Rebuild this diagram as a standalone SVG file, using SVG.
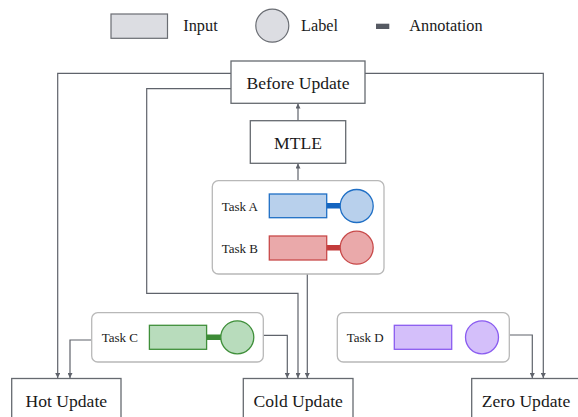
<svg xmlns="http://www.w3.org/2000/svg" width="578" height="417" viewBox="0 0 578 417">
<style>
text{font-family:"Liberation Serif","Times New Roman",serif;fill:#1a1a1a}
.leg{font-size:16.3px}
.big{font-size:17.6px}
.task{font-size:13px}
.box{fill:#fff;stroke:#666a70;stroke-width:1.3}
.cont{fill:#fff;stroke:#b8b8b8;stroke-width:1.3}
.conn{fill:none;stroke:#5f636b;stroke-width:1.2}
</style>
<defs>
<marker id="arr" viewBox="0 0 10 10" refX="10" refY="5" markerWidth="5" markerHeight="5" orient="auto" markerUnits="userSpaceOnUse">
<path d="M0,0 L10,5 L0,10 z" fill="#5f636b"/>
</marker>
</defs>
<rect width="578" height="417" fill="#fff"/>
<g id="legend">
<rect x="111" y="14" width="56.5" height="24.3" fill="#dcdde2" stroke="#6a6d73" stroke-width="1.2"/>
<text class="leg" x="183.3" y="31">Input</text>
<circle cx="272.3" cy="25.7" r="16.5" fill="#dcdde2" stroke="#6a6d73" stroke-width="1.2"/>
<text class="leg" x="301" y="31">Label</text>
<rect x="376" y="23.7" width="13.3" height="5.3" fill="#565a63"/>
<text class="leg" x="409.3" y="31">Annotation</text>
</g>
<g id="connectors">
<path class="conn" d="M231,73.3 H57.7 V378" marker-end="url(#arr)"/>
<path class="conn" d="M231,88.7 H146.7 V293.3 H298 V378" marker-end="url(#arr)"/>
<path class="conn" d="M365,73.3 H543.3 V378" marker-end="url(#arr)"/>
<path class="conn" d="M298,120.7 V103.5" marker-end="url(#arr)"/>
<path class="conn" d="M298,180.7 V163.5" marker-end="url(#arr)"/>
<path class="conn" d="M307.3,274 V378" marker-end="url(#arr)"/>
<path class="conn" d="M91.7,340 H70 V378" marker-end="url(#arr)"/>
<path class="conn" d="M263.3,335.3 H287.3 V378" marker-end="url(#arr)"/>
<path class="conn" d="M509.3,335 H532.3 V378" marker-end="url(#arr)"/>
</g>
<g id="before-update">
<rect class="box" x="231" y="61" width="134" height="42.3"/>
<text class="big" x="298" y="88.5" text-anchor="middle">Before Update</text>
</g>
<g id="mtle">
<rect class="box" x="250.3" y="120.7" width="95.4" height="42.6"/>
<text class="big" x="298" y="148.5" text-anchor="middle">MTLE</text>
</g>
<g id="tasks-ab">
<rect class="cont" x="212.3" y="180.7" width="171.7" height="93.3" rx="6"/>
<text class="task" x="221.7" y="211">Task A</text>
<rect x="326.7" y="203" width="14" height="5.5" fill="#1565c0"/>
<rect x="269.3" y="194" width="57.4" height="23.7" fill="#b8d0ec" stroke="#1f6fc5" stroke-width="1.3"/>
<circle cx="356.7" cy="206" r="16.5" fill="#b8d0ec" stroke="#1f6fc5" stroke-width="1.3"/>
<text class="task" x="221.7" y="252.5">Task B</text>
<rect x="326.7" y="245" width="14" height="5.5" fill="#c33b3b"/>
<rect x="269.3" y="236" width="57.4" height="24" fill="#eaa9aa" stroke="#c84a4a" stroke-width="1.3"/>
<circle cx="356.7" cy="247.7" r="16.5" fill="#eaa9aa" stroke="#c84a4a" stroke-width="1.3"/>
</g>
<g id="task-c">
<rect class="cont" x="91.7" y="312.7" width="171.6" height="49.3" rx="6"/>
<text class="task" x="101.7" y="342">Task C</text>
<rect x="206.6" y="334.5" width="14.5" height="5.5" fill="#3d8b37"/>
<rect x="149.4" y="325.3" width="57.2" height="24" fill="#b8dcbc" stroke="#3f8f3a" stroke-width="1.3"/>
<circle cx="237.3" cy="337.3" r="16.5" fill="#b8dcbc" stroke="#3f8f3a" stroke-width="1.3"/>
</g>
<g id="task-d">
<rect class="cont" x="337.3" y="312.7" width="172" height="49.3" rx="6"/>
<text class="task" x="346.7" y="342">Task D</text>
<rect x="394.3" y="325.3" width="57.4" height="24" fill="#d4bffa" stroke="#8a5cf0" stroke-width="1.3"/>
<circle cx="482" cy="337.3" r="16.5" fill="#d4bffa" stroke="#8a5cf0" stroke-width="1.3"/>
</g>
<g id="hot-update">
<rect class="box" x="11.7" y="378.5" width="109.3" height="42"/>
<text class="big" x="66.3" y="406.5" text-anchor="middle">Hot Update</text>
</g>
<g id="cold-update">
<rect class="box" x="243.3" y="378.5" width="109.7" height="42"/>
<text class="big" x="298.2" y="406.5" text-anchor="middle">Cold Update</text>
</g>
<g id="zero-update">
<rect class="box" x="471.7" y="378.5" width="110" height="42"/>
<text class="big" x="526" y="406.5" text-anchor="middle">Zero Update</text>
</g>
</svg>
